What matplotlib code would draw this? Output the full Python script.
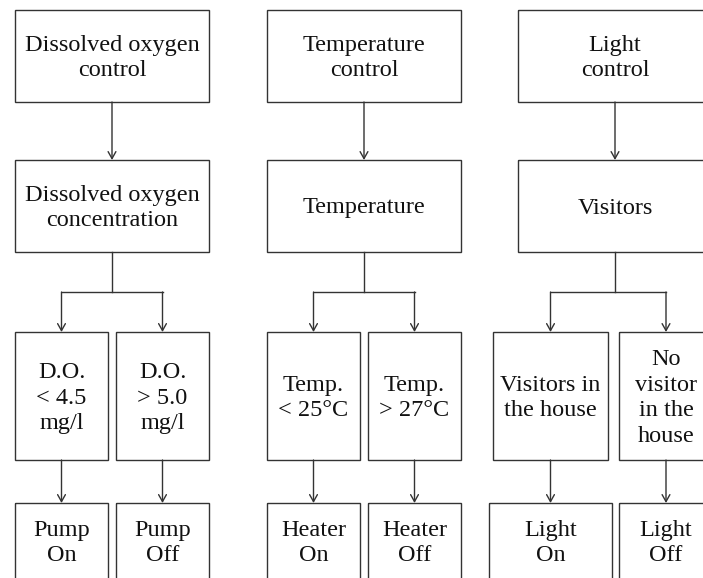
import matplotlib.pyplot as plt
from matplotlib.patches import Rectangle

# -------------------------------
# Flowchart content
# -------------------------------
top_labels = ["Dissolved oxygen\ncontrol", "Temperature\ncontrol", "Light\ncontrol"]
mid_labels = ["Dissolved oxygen\nconcentration", "Temperature", "Visitors"]
cond_labels = [["D.O.\n< 4.5\nmg/l", "D.O.\n> 5.0\nmg/l"],
               ["Temp.\n< 25°C", "Temp.\n> 27°C"],
               ["Visitors in\nthe house", "No\nvisitor\nin the\nhouse"]]
action_labels = [["Pump\nOn", "Pump\nOff"],
                 ["Heater\nOn", "Heater\nOff"],
                 ["Light\nOn", "Light\nOff"]]

# -------------------------------
# Layout (pixels, y down)
# -------------------------------
W, H = 703, 578
col_x = [(15, 209), (267, 461), (518, 712)]
cond_x = [[(15, 108), (116, 209)],
          [(267, 360), (368, 461)],
          [(493, 608), (619, 713)]]
act_x = [[(15, 108), (116, 209)],
         [(267, 360), (368, 461)],
         [(489, 612), (619, 713)]]
row_top = (10, 102)
row_mid = (160, 252)
row_cond = (332, 460)
row_act = (503, 640)
branch_y = 292

ec = '#333333'
font = dict(family='Liberation Serif', fontsize=17.5, color='#111111',
            ha='center', va='center', linespacing=1.28)

fig = plt.figure(figsize=(W / 100, H / 100), dpi=100)
ax = fig.add_axes([0, 0, 1, 1])
ax.set_xlim(0, W)
ax.set_ylim(H, 0)
ax.axis('off')


def box(x0, x1, y0, y1, label, ty=None):
    ax.add_patch(Rectangle((x0, y0), x1 - x0, y1 - y0, fill=False,
                           edgecolor=ec, linewidth=1.0))
    if ty is None:
        ty = (y0 + y1) / 2 + 2
    ax.text((x0 + x1) / 2, ty, label, **font)


def arrow(x, y0, y1):
    ax.annotate('', xy=(x, y1), xytext=(x, y0),
                arrowprops=dict(arrowstyle='->,head_length=0.5,head_width=0.28',
                                color=ec, lw=1.0, shrinkA=0, shrinkB=0,
                                mutation_scale=10))


for i in range(3):
    x0, x1 = col_x[i]
    cx = (x0 + x1) / 2
    box(x0, x1, *row_top, top_labels[i])
    box(x0, x1, *row_mid, mid_labels[i])
    arrow(cx, row_top[1], row_mid[0])

    # split into two branches
    bx = [(a + b) / 2 for a, b in cond_x[i]]
    ax.plot([cx, cx], [row_mid[1], branch_y], color=ec, lw=1.0)
    ax.plot([bx[0], bx[1]], [branch_y, branch_y], color=ec, lw=1.0,
            solid_capstyle='projecting')
    for j in range(2):
        arrow(bx[j], branch_y, row_cond[0])
        box(*cond_x[i][j], *row_cond, cond_labels[i][j])
        arrow(bx[j], row_cond[1], row_act[0])
        box(*act_x[i][j], *row_act, action_labels[i][j], ty=row_act[0] + 40)

fig.savefig('out.png', dpi=100)
